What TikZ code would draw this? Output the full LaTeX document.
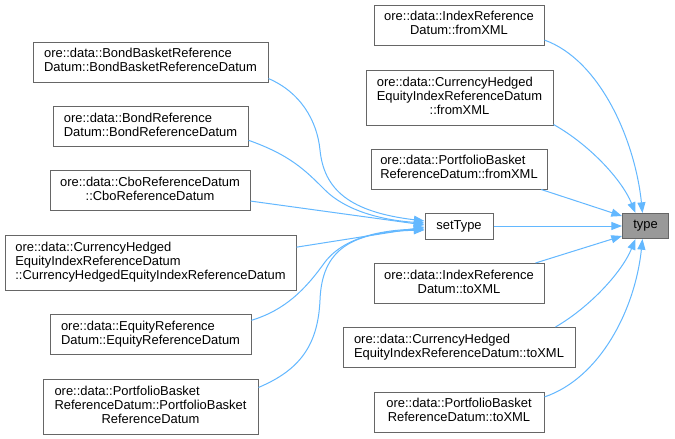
\documentclass[tikz,border=0pt]{standalone}
\usepackage{fontspec}
\setmainfont{Liberation Sans}
\usetikzlibrary{arrows.meta,calc}
\definecolor{edgeblue}{HTML}{63B8FF}
\definecolor{boxgray}{HTML}{666666}
\definecolor{typefill}{HTML}{999999}
\newcommand\dlab[2]{\begin{tabular}{@{}l@{}}#1\\\multicolumn{1}{@{}c@{}}{#2}\end{tabular}}
\begin{document}
\begin{tikzpicture}[x=0.75pt,y=-0.75pt,
  font=\fontsize{9.7}{10.5}\selectfont,
  fn/.style={draw=boxgray,line width=0.75pt,fill=white,inner sep=0pt,minimum width=#1},
  edge/.style={draw=edgeblue,line width=0.75pt,-{Triangle[length=8pt,width=6pt]}}]
\useasboundingbox[fill=white] (0,0) rectangle (675,439);
% right column
\node[fn=170pt*0.75,minimum height=30pt] (ib) at (459,25) {\dlab{ore::data::IndexReference}{Datum::fromXML}};
\node[fn=187pt*0.75,minimum height=41.25pt] (cf) at (459.5,97.5) {\dlab{ore::data::CurrencyHedged\\EquityIndexReferenceDatum}{::fromXML}};
\node[fn=176pt*0.75,minimum height=30pt] (pf) at (459,169) {\dlab{ore::data::PortfolioBasket}{ReferenceDatum::fromXML}};
\node[fn=68pt*0.75,minimum height=19.5pt] (st) at (459,226) {setType};
\node[fn=46pt*0.75,minimum height=18.75pt,fill=typefill] (type) at (645.5,226) {type};
\node[fn=170pt*0.75,minimum height=30pt] (it) at (459,283.5) {\dlab{ore::data::IndexReference}{Datum::toXML}};
\node[fn=232pt*0.75,minimum height=30pt] (ct) at (459,347.5) {\dlab{ore::data::CurrencyHedged}{EquityIndexReferenceDatum::toXML}};
\node[fn=170pt*0.75,minimum height=30pt] (pt) at (459,412) {\dlab{ore::data::PortfolioBasket}{ReferenceDatum::toXML}};
% left column
\node[fn=235pt*0.75,minimum height=30pt] (bb) at (150.5,62) {\dlab{ore::data::BondBasketReference}{Datum::BondBasketReferenceDatum}};
\node[fn=195pt*0.75,minimum height=30pt] (br) at (150.5,126.5) {\dlab{ore::data::BondReference}{Datum::BondReferenceDatum}};
\node[fn=200pt*0.75,minimum height=30pt] (cb) at (150,190.5) {\dlab{ore::data::CboReferenceDatum}{::CboReferenceDatum}};
\node[fn=291pt*0.75,minimum height=41.25pt] (ch) at (150.5,262.5) {\dlab{ore::data::CurrencyHedged\\EquityIndexReferenceDatum}{::CurrencyHedgedEquityIndexReferenceDatum}};
\node[fn=201pt*0.75,minimum height=30pt] (eq) at (150.5,334.5) {\dlab{ore::data::EquityReference}{Datum::EquityReferenceDatum}};
\node[fn=215pt*0.75,minimum height=41.25pt] (pb) at (150.5,406.5) {\dlab{ore::data::PortfolioBasket\\ReferenceDatum::PortfolioBasket}{ReferenceDatum}};
% edges to setType
\draw[edge] (bb.-8) .. controls (300,92) and (317,120) .. (320,150) .. controls (324,190) and (350,212) .. ($(st.west)+(0,-5)$);
\draw[edge] (br.-8.5) .. controls (290,155) and (305,170) .. (325,190) .. controls (345,210) and (380,220) .. ($(st.west)+(0,-3)$);
\draw[edge] (cb.-6.6) -- ($(st.west)+(0,-1)$);
\draw[edge] (ch.6.9) -- ($(st.west)+(0,1)$);
\draw[edge] (eq.8.8) .. controls (285,310) and (305,290) .. (325,262) .. controls (345,236) and (385,230) .. ($(st.west)+(0,3)$);
\draw[edge] (pb.10.3) .. controls (300,370) and (318,345) .. (320,300) .. controls (322,250) and (350,232) .. ($(st.west)+(0,4)$);
% edges to type
\draw[edge] (ib.-10) .. controls (600,60) and (635,140) .. ($(type.north)+(-3,0)$);
\draw[edge] (cf.-16) .. controls (590,145) and (622,180) .. ($(type.north)+(-10,0)$);
\draw[edge] (pf.-14.7) -- ($(type.west)+(0,-10)$);
\draw[edge] (st.east) -- (type.west);
\draw[edge] (it.15.1) -- ($(type.west)+(0,10)$);
\draw[edge] (ct.12.3) .. controls (590,307) and (622,272) .. ($(type.south)+(-10,0)$);
\draw[edge] (pt.10) .. controls (600,378) and (635,310) .. ($(type.south)+(-3,0)$);
\end{tikzpicture}
\end{document}
